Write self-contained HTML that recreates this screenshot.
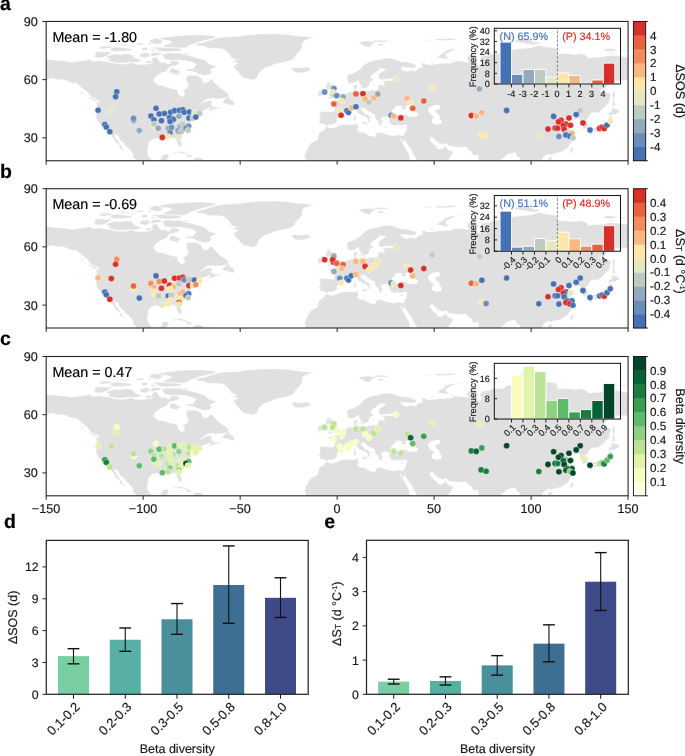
<!DOCTYPE html><html><head><meta charset="utf-8"><style>html,body{margin:0;padding:0;background:#fff;}svg{display:block;font-family:'Liberation Sans', sans-serif;will-change:transform;}text{stroke-width:0.18px;text-rendering:geometricPrecision;}</style></head><body><svg width="685" height="756" viewBox="0 0 685 756"><defs><path id="land" d="M-35.11 47.33L-32 46.16L-28.13 45.39L-26.38 44.42L-26.77 43.25L-29.87 42.67L-32.59 41.99L-31.42 40.93L-25.41 39.57L-23.08 38.21L-17.46 37.14L-13.19 36.17L-8.73 37.05L-4.27 37.24L0 37.82L4.85 38.31L9.7 38.7L17.46 39.47L21.34 39.76L25.22 40.83L29.09 40.15L32 39.76L36.85 39.18L39.76 38.79L42.67 37.82L46.55 39.76L49.46 39.57L54.31 39.18L58.19 39.96L63.04 40.73L67.89 41.9L71.77 42.67L77.59 42.67L82.44 42.09L85.35 41.12L89.22 42.67L95.04 43.06L99.89 42.87L102.8 42.09L104.74 42.09L105.52 40.15L105.71 37.82L107.65 35.3L110.56 35.88L112.5 38.41L113.47 40.35L116.38 41.51L118.32 40.35L120.26 42.09L123.17 42.67L125.5 39.18L129.96 39.57L133.26 40.35L132.87 41.7L130.93 43.64L127.05 44.61L123.17 45.58L121.23 48.1L119.29 50.04L115.41 51.4L111.53 53.92L108.62 56.25L107.46 59.16L108.23 60.52L111.53 63.62L116.38 64.01L119.29 64.98L126.08 67.31L131.32 67.69L131.51 71.77L134.81 75.07L137.72 74.48L138.3 72.74L137.72 69.83L136.55 68.47L140.63 66.92L142.37 63.43L140.63 60.13L140.04 57.22L140.43 54.31L144.51 53.73L149.35 53.73L153.23 55.47L155.56 56.64L155.95 59.35L158.47 61.49L161.96 60.52L164.87 57.61L166.23 58.19L168.75 61.49L171.66 64.4L173.99 66.72L177.48 68.86L179.81 70.22L182.33 72.74L182.72 74.68L179.42 76.42L174.57 77.2L169.72 77.2L165.84 77L161.96 77.39L158.08 79.14L154.2 82.82L156.14 81.66L160.02 79.72L163.9 79.14L166.23 79.91L165.26 81.85L165.07 83.6L166.81 85.15L170.69 85.93L172.24 86.12L174.57 84.96L174.96 85.73L172.63 87.09L167.78 88.25L163.32 89.81L162.54 88.06L165.26 86.7L161.96 86.9L160.6 87.87L157.5 88.84L154.79 90L153.62 91.55L154.01 93.3L155.17 93.49L152.85 94.07L150.32 94.66L147.8 95.43L147.41 96.21L147.03 97.95L145.67 99.12L145.28 99.89L144.31 101.64L143.34 103L144.31 105.13L144.51 106.29L142.57 107.26L140.04 108.62L137.72 110.17L134.81 111.92L133.26 113.86L133.06 116.19L134.61 119.48L135.78 122.97L135.19 125.5L133.84 125.69L132.29 123.94L130.54 121.04L130.35 119.1L128.6 116.57L127.44 116.38L125.5 116.96L123.56 115.6L120.07 115.6L117.54 115.99L117.93 117.93L115.6 118.13L112.89 117.35L109.01 116.96L107.07 117.54L103.97 119.48L102.22 121.42L102.03 124.14L101.64 127.05L101.25 131.32L102.41 134.61L104.35 137.33L106.68 138.49L107.85 139.27L111.53 138.49L114.05 138.3L115.02 136.94L115.8 133.84L119.29 132.87L122.01 132.87L122.59 135L121.23 137.72L119.87 140.63L119.29 143.92L128.02 144.51L128.02 151.29L116.38 148.38L106.68 143.92L96.98 141.98L90.19 139.07L86.51 135.19L86.9 132.87L85.73 130.73L83.99 128.79L81.47 126.08L78.75 124.14L77.78 121.81L75.84 120.45L73.32 117.93L71.57 114.05L68.28 112.69L68.66 114.83L70.6 117.74L72.16 119.68L73.9 122.59L75.45 125.3L76.81 127.63L78.75 129.18L77.78 130.15L77 128.99L73.32 126.47L73.13 123.36L69.63 121.23L67.89 120.65L69.25 119.87L67.31 116.96L65.17 114.83L63.82 111.53L61.49 109.2L59.94 108.43L57.03 107.65L56.44 105.91L54.5 103.58L53.34 101.83L52.37 100.86L51.01 99.12L50.82 97.37L49.66 96.21L50.24 94.07L49.46 91.55L50.43 88.06L50.63 84.96L50.24 82.82L49.07 80.69L52.18 81.27L52.76 79.53L51.21 78.56L48.49 77L44.61 75.65L43.06 73.32L41.31 70.8L38.41 68.66L35.88 66.92L33.94 64.98L30.84 61.88L26.19 61.68L23.66 60.91L19.78 58.97L16.49 58.19L11.83 58.19L7.37 57.03L3.49 57.22L0.97 58.58L-3.49 59.74L-2.72 56.83L0 55.86L-4.27 57.61L-6.79 59.35L-8.15 61.29L-12.61 63.43L-17.07 65.95L-22.31 67.31L-28.13 68.66L-25.22 66.92L-19.4 64.4L-14.55 61.1L-17.46 60.52L-23.08 60.71L-23.86 58.58L-28.13 57.22L-29.68 55.67L-29.68 53.34L-28.13 51.98L-21.34 51.4L-21.34 49.46L-26.19 49.27L-30.06 49.46L-32 48.88ZM280.09 104.74L278.73 103.19L276.6 102.41L273.69 102.8L273.88 100.47L272.52 99.31L273.69 96.6L274.07 94.07L273.69 92.72L272.91 91.16L275.43 89.81L279.7 90L283.58 90.39L287.46 90.39L288.43 88.25L288.62 85.35L286.68 83.21L282.22 81.66L281.64 80.69L285.13 79.91L287.85 80.11L287.26 78.17L288.62 78.75L291.34 78.56L294.05 77.39L294.05 75.84L295.99 75.45L297.93 74.68L299.29 73.32L300.26 71.77L302.39 70.99L304.53 70.6L307.44 70.22L308.02 68.86L307.63 66.92L306.66 64.78L307.63 63.82L311.51 62.65L310.93 64.78L312.09 65.37L310.35 66.92L309.57 67.89L310.35 68.86L312.29 69.83L315.2 69.05L318.49 70.02L321.98 69.25L326.83 68.28L328.97 69.05L331.88 67.89L331.88 65.95L331.68 64.4L334.79 62.65L336.73 64.01L338.28 63.43L338.08 61.49L336.53 60.52L336.53 59.74L340.41 58.97L345.26 59.16L349.53 58.38L346.81 57.22L342.35 57.41L335.56 58.38L332.46 57.03L332.65 54.89L332.26 53.34L334.59 51.21L338.47 48.69L340.22 47.72L333.62 46.94L332.07 48.88L329.74 50.82L326.83 52.56L324.89 54.31L324.31 56.25L327.22 57.8L326.06 59.55L323.54 60.91L322.95 63.43L321.79 65.75L318.69 66.92L315.97 67.11L315.39 65.37L314.03 63.04L312.67 60.52L311.51 58.38L310.35 60.13L306.47 61.88L302.59 61.88L301.62 60.13L301.04 57.22L300.65 55.28L301.62 53.34L304.53 52.37L308.41 51.4L310.35 49.46L314.23 47.52L316.17 45L319.08 42.67L321.98 40.93L325.86 39.38L329.74 38.79L333.62 38.02L337.5 36.85L340.99 36.66L345.26 36.85L349.14 38.21L351.08 39.18L354.96 39.96L360.78 40.54L366.6 42.09L370.48 44.03L369.51 45.97L365.63 46.55L358.84 46.16L355.93 45.39L354.38 46.94L357.87 49.46L361.75 49.85L363.69 48.69L367.57 49.27L369.51 49.27L373.39 45.97L376.3 46.16L375.33 41.7L378.24 41.7L380.17 43.06L384.05 43.25L393.75 42.09L396.66 41.9L401.51 41.51L405.39 41.7L408.3 39.76L413.15 39.57L417.03 40.15L422.85 40.93L420.52 37.24L421.88 34.91L423.82 32.97L426.73 32L429.64 33.36L431.58 36.85L430.61 39.76L431.58 43.64L433.52 44.61L435.46 41.7L433.52 38.79L434.49 35.88L437.39 34.33L442.24 34.14L447.09 32L451.94 32L457.76 31.42L459.7 29.48L465.52 28.13L475.22 27.16L484.92 26.19L493.26 23.86L498.49 25.22L508.19 26.19L511.1 28.13L511.1 32L519.83 32L529.53 32.97L535.35 32L540.2 33.94L542.14 36.85L546.99 35.88L554.74 35.69L562.5 33.94L572.2 34.33L581.9 35.88L585.78 37.24L591.6 36.85L601.3 37.63L611 39.57L620.69 38.79L630.39 39.18L640.09 40.73L640.09 48.49L620.69 58.19L607.12 65.95L593.54 75.65L593.54 63.04L591.6 59.16L581.9 59.16L568.32 59.55L563.47 62.07L557.65 67.89L552.8 68.66L556.68 70.8L563.47 71.38L564.83 73.71L563.47 77.59L563.09 81.47L559.59 84.38L555.71 88.25L552.8 90.78L548.93 91.55L546.02 91.16L544.46 92.52L542.52 95.04L541.75 96.98L539.23 98.92L541.55 101.83L541.94 104.74L541.55 106.29L538.26 107.46L536.32 107.85L536.12 105.71L536.9 103.77L535.74 101.83L533.99 101.44L533.02 99.89L533.99 97.95L532.05 97.18L528.17 97.95L526.04 99.31L528.17 96.01L526.23 95.24L522.74 97.37L519.83 98.54L519.25 99.89L521.38 101.83L522.55 102.61L525.26 101.25L528.56 102.03L525.65 103.58L522.74 105.71L524.68 109.59L525.46 111.53L527.2 113.47L527.4 114.63L525.65 115.41L527.59 116.57L526.62 119.29L524.68 121.23L522.93 124.14L520.8 126.85L517.89 128.79L515.95 130.15L513.04 131.12L511.1 131.51L508.19 132.29L505.28 133.45L504.9 135L504.12 132.87L501.4 132.67L499.46 133.84L497.72 135.39L496.17 137.72L495.97 138.88L497.52 142.57L502.37 151.29L494.62 157.89L484.92 149.35L481.04 155.17L480.07 142.57L474.05 143.54L474.05 139.66L473.86 136.75L471.34 135.39L469.98 133.45L469.01 131.12L466.49 131.7L464.55 132.29L462.03 132.67L459.51 134.03L458.54 135.97L455.82 137.13L453.88 139.07L452.52 140.43L446.12 145.47L441.27 159.05L438.36 155.17L434.49 145.47L432.55 139.66L432.16 136.75L431.77 133.26L430.99 133.45L427.89 134.42L424.79 131.32L426.73 130.35L424.21 129.57L421.88 128.21L420.13 125.3L416.06 125.69L410.43 125.69L405 124.91L402.09 124.53L400.15 121.81L396.66 122.97L393.75 122.2L390.65 120.45L388.52 117.74L385.99 115.6L384.05 116.38L383.86 117.74L385.22 120.26L387.16 122.2L388.13 123.75L389.87 124.14L390.84 125.11L391.04 127.05L392.78 127.63L395.69 127.63L398.6 125.3L400.15 123.56L400.35 126.27L402.48 128.6L405 128.99L406.94 131.12L404.61 135L403.06 137.72L400.93 139.66L391.81 143.54L378.24 150.32L374.94 149.94L373.97 145.47L373.39 142.57L371.45 139.66L369.51 136.75L366.98 132.87L365.63 128.79L363.69 126.27L361.75 124.14L359.23 120.26L358.84 117.35L358.06 120.26L357.29 120.84L355.93 119.48L354.18 116.57L354.96 119.29L356.51 121.62L357.87 124.14L359.81 128.02L362.33 131.9L363.3 133.84L363.11 136.75L364.66 139.66L365.63 145.47L329.74 164.87L257.98 147.41L258.95 139.66L259.53 136.75L257.98 134.22L259.33 130.93L260.89 128.02L262.82 124.14L265.35 121.04L268.64 119.68L271.55 117.93L271.94 115.41L272.52 112.5L274.66 109.98L277.76 108.62L279.31 105.71L280.09 105.13L280.67 104.94L282.22 106.29L286.68 106.49L290.95 105.13L293.86 103.77L297.74 103.19L303.56 102.8L307.44 103L310.35 102.22L312.29 102.61L311.32 104.16L312.48 106.1L310.93 108.04L312.67 110.17L315.2 110.75L320.43 111.92L321.21 113.47L325.86 114.83L328.77 115.41L329.74 112.69L329.94 111.92L332.65 110.75L335.56 111.34L339.44 112.69L344.29 113.86L347.2 114.63L350.11 113.47L353.41 113.86L355.93 114.25L357.29 113.86L357.87 113.28L358.84 110.75L359.81 108.62L360.58 106.29L360.39 104.74L361.17 103.58L359.81 103.58L357.87 103.19L354.57 104.55L351.08 103.19L350.11 103.97L348.17 104.35L345.26 103.38L344.1 102.22L343.71 100.28L342.35 99.89L342.93 97.95L341.77 96.98L342.74 96.21L344.29 96.4L347.2 95.43L347.39 94.66L351.08 94.85L355.93 93.1L358.84 92.91L361.75 94.46L365.63 95.24L369.51 95.04L371.45 94.07L371.83 92.13L368.54 90.39L365.63 88.64L363.69 87.87L361.94 86.9L363.88 86.12L365.82 84.18L366.98 83.02L363.69 83.41L359.81 84.76L358.84 85.93L361.75 86.51L359.23 87.48L356.9 88.25L355.73 88.06L355.93 86.9L353.99 86.51L356.12 85.35L353.02 84.38L351.08 84.18L350.5 84.38L349.14 85.73L348.36 86.9L346.62 88.64L345.26 90.19L344.87 92.13L345.26 93.1L347.2 94.66L345.26 95.04L343.32 95.63L341.77 96.79L341.38 95.43L339.44 95.24L337.11 95.63L336.53 96.98L334.79 96.01L334.79 97.95L336.14 98.92L337.5 100.47L335.56 101.06L335.95 102.22L335.17 103.77L334.4 103.97L333.04 103.19L331.88 101.25L332.85 100.28L331.3 99.31L328.58 96.4L328.77 93.49L326.83 92.33L323.92 90.78L321.01 89.42L319.08 86.9L317.33 87.09L317.52 85.93L314.81 86.51L315 88.84L317.33 90.19L318.49 92.13L320.43 93.3L321.98 93.3L321.98 94.27L325.86 95.82L326.83 96.79L323.92 96.01L322.95 97.76L324.12 98.92L322.95 100.09L321.98 101.06L321.4 100.28L321.79 99.12L321.21 96.98L319.66 95.82L318.11 95.04L316.17 94.46L313.84 92.91L312.48 92.13L311.32 91.16L310.73 89.42L308.41 88.45L305.5 89.61L303.56 90.97L300.65 90.39L298.71 90.19L296.96 90.97L297.16 93.3L294.83 94.46L292.5 95.43L290.95 97.37L290.37 98.34L291.34 99.31L289.59 101.64L287.85 102.41L286.68 103.38L282.42 103.38L280.67 104.35ZM51.79 80.88L48.49 79.72L44.22 77.59L41.9 76.03L43.64 75.84L47.52 77L50.43 78.56ZM175.73 82.24L181.36 82.24L183.3 83.41L186.98 83.99L188.73 82.44L187.18 80.88L186.98 79.14L183.3 77.78L183.3 74.48L181.16 75.07L178.84 77.78L176.12 80.5L177.48 81.66ZM126.27 132.09L127.24 131.12L129.96 129.96L132.87 129.76L135.78 130.15L138.69 131.32L141.21 132.48L144.12 133.64L147.03 135.39L143.92 135.87L140.24 136.07L141.21 134.61L138.88 132.67L134.81 131.8L132.29 131.51L131.51 130.54L128.99 131.51ZM146.64 138.88L148.58 136.36L149.74 135.97L152.85 136.07L155.37 136.46L158.28 138.49L155.17 139.27L152.46 140.43L149.74 139.46ZM138.88 138.88L141.6 138.69L143.15 139.66L140.63 140.04ZM160.41 138.69L163.71 138.88L163.51 139.66L160.6 139.66ZM139.66 125.88L140.43 127.05L140.04 128.41L139.07 127.44ZM137.72 122.78L139.66 122.78L139.66 123.17L137.72 123.17ZM140.63 122.39L141.6 123.17L141.21 124.14L140.43 123.36ZM147.41 95.82L151.29 94.85L151.49 95.24L147.8 96.01ZM166.04 84.18L170.69 84.38L170.3 85.35L166.81 84.96ZM165.84 77.78L171.27 78.75L171.08 79.33L166.42 78.36ZM34.91 69.83L36.85 69.83L35.88 73.32L34.91 72.16ZM-8.73 62.07L-4.27 61.68L-5.43 64.01L-8.73 64.4ZM170.88 44.81L167.59 46.36L164.1 48.49L165.45 51.01L164.1 52.56L161.96 53.34L158.08 54.12L152.26 52.56L148.38 50.43L143.92 49.66L139.66 49.46L140.63 47.52L146.83 47.33L148.38 45L150.32 43.25L147.03 40.93L141.98 39.96L137.72 38.99L131.9 38.6L125.11 38.79L119.29 38.02L117.35 35.88L115.99 32.59L122.2 31.42L128.02 31.81L134.81 31.62L140.63 33.56L146.44 35.11L152.26 36.85L158.08 38.41L160.6 40.15L161.57 42.09L166.42 43.84ZM134.81 50.43L129.96 53.73L123.17 51.21L124.14 47.52L126.08 46.36L128.99 47.52L132.87 49.46ZM129.96 52.56L133.84 53.15L130.93 53.92L128.02 53.34ZM95.04 39.18L92.13 40.73L87.28 40.93L82.44 41.12L76.62 41.51L71.77 41.7L66.92 40.73L63.04 40.15L61.1 38.79L64.01 37.63L61.1 36.85L60.13 35.88L62.07 34.91L63.04 33.94L65.95 33.36L68.86 32.39L73.71 33.36L77.59 32.39L82.44 32.39L85.35 32.97L87.28 34.33L88.64 36.47L92.13 37.63L95.04 38.21ZM47.52 34.91L48.88 35.69L52.37 36.66L56.25 36.08L59.16 35.11L62.07 33.75L63.04 32.59L65.95 31.81L66.34 31.03L63.04 30.45L59.16 30.65L55.28 30.06L50.43 30.45L48.49 31.42L49.46 32.97ZM64.01 27.16L65.95 25.99L71.77 25.6L77.59 26.19L81.47 26.77L85.35 27.35L86.12 28.71L83.41 29.29L77.59 29.68L71.77 30.06L66.92 29.87L63.04 29.09L64.98 28.13ZM52.37 26.57L56.25 24.63L62.07 24.44L65.95 25.22L64.98 26.38L59.16 27.35L55.28 27.54ZM95.04 27.93L96.01 26.19L99.89 25.8L101.83 26.57L100.86 28.13L101.64 29.09L96.98 28.9ZM103.77 29.09L106.68 28.13L109.59 28.51L109.59 29.68L105.71 29.87ZM103.77 26.77L106.68 25.99L112.5 25.8L118.32 25.99L124.14 26.19L129.96 26.38L135.78 27.74L133.84 29.29L128.02 30.06L120.26 30.26L114.44 29.87L111.53 29.09L110.56 27.54ZM115.41 25.6L122.2 26.38L129.96 26.19L135.78 26.57L139.66 26.19L144.51 23.28L149.35 21.72L153.23 20.37L159.05 18.81L164.87 17.46L170.69 15.52L166.81 14.16L155.17 13.38L141.6 13.58L126.08 14.74L116.38 16.1L111.53 17.07L116.38 18.43L123.17 19.4L126.08 20.75L122.2 22.31L120.26 23.28L117.35 24.83ZM114.44 22.31L109.59 22.69L104.74 21.34L102.8 19.4L104.74 18.23L109.59 16.88L113.47 17.46L116.38 18.81L115.41 20.37ZM89.22 22.89L92.13 21.53L96.98 21.72L98.92 22.69L96.01 23.47L92.13 23.66ZM101.83 23.47L102.8 21.72L105.71 22.31L105.13 23.47ZM71.77 23.66L75.65 22.5L82.44 23.28L85.35 24.05L78.56 24.25ZM85.35 24.63L88.64 24.05L88.25 25.02L85.73 25.22ZM134.81 32.39L139.66 31.62L142.57 32.59L139.66 33.56L135.78 33.17ZM102.8 34.91L105.71 34.91L109.59 34.33L114.44 33.36L115.41 31.42L109.59 30.84L105.71 31.42L104.74 33.36ZM93.1 33.36L95.04 35.69L99.89 36.47L102.8 34.91L103.38 32L101.83 31.23L97.95 31.42L94.07 32.59ZM97.95 41.12L101.83 41.7L105.71 41.31L106.29 39.76L103.77 39.18L100.86 39.18ZM206.57 58.58L209.48 57.22L211.42 55.28L212.39 52.37L214.33 49.66L218.21 46.75L223.06 45.39L228.88 42.48L237.61 40.93L244.4 38.99L248.28 37.05L249.25 33.94L253.13 30.06L256.04 26.19L256.04 21.72L257.98 19.4L263.79 17.07L268.64 16.29L259.92 15.13L252.16 14.55L242.46 13.19L232.76 12.41L213.36 12.61L199.79 13.77L190.09 15.13L178.45 15.52L170.69 16.68L164.87 18.43L160.02 20.37L150.32 22.31L150.32 24.25L157.11 24.63L161.96 26.77L172.63 26.96L177.48 27.74L180.39 30.06L183.3 32.97L185.24 36.85L191.06 38.21L186.21 39.76L192.03 41.7L187.18 44.61L189.12 47.52L192.03 50.43L193.97 53.34L196.88 56.25L202.7 57.8ZM244.4 47.52L247.31 45.78L255.07 46.36L261.86 45.58L264.57 48.1L262.24 49.85L255.07 51.6L248.28 50.82L247.31 48.88ZM279.89 77.39L284.16 77L289.01 76.23L293.67 75.26L294.25 72.35L291.53 71.57L291.14 70.6L288.62 68.66L287.85 66.72L286.88 65.95L286.1 64.98L287.46 63.04L284.55 62.65L283.19 62.85L285.13 60.91L281.25 60.91L280.86 62.85L279.7 64.01L280.09 65.37L278.92 65.37L280.09 67.31L281.45 68.28L284.16 68.08L284.36 69.25L285.13 70.99L282.22 71.19L282.8 72.16L283.19 73.13L280.86 74.1L283.19 74.48L284.74 74.87L282.8 75.26L281.25 76.42ZM279.31 73.32L279.31 70.8L279.51 68.66L278.34 67.5L276.4 67.31L274.46 67.89L274.85 69.44L271.55 69.44L271.75 70.99L272.52 72.74L270.97 74.1L272.52 74.68L275.43 74.1L278.73 73.32ZM312.67 66.34L315.39 65.75L315 67.5L312.87 67.5ZM309.96 67.11L311.9 66.72L311.51 67.89L310.35 67.69ZM326.06 62.26L327.8 62.46L327.03 64.01L326.25 63.62ZM307.63 93.3L309.18 91.16L309.57 92.91L308.79 94.27L307.83 93.88ZM306.86 95.24L308.79 94.46L309.96 96.01L309.57 98.73L308.02 99.12L307.24 98.73L307.44 96.4ZM315 100.86L316.75 100.47L321.21 100.28L320.24 103.38L318.69 102.8L315.39 101.64ZM336.53 106.1L337.89 105.52L341.96 106.1L339.44 106.88L336.73 106.29ZM353.6 106.68L354.96 105.91L358.06 105.32L356.9 106.88L354.96 107.46ZM295.61 97.76L297.16 97.18L297.74 97.76L296.77 98.34L295.8 98.15ZM335.17 99.12L336.53 99.12L338.67 100.67L338.08 100.86L335.95 99.7ZM312.29 22.31L314.23 20.37L318.11 19.78L321.98 19.59L325.86 20.17L331.68 20.56L326.83 22.31L324.89 24.05L322.95 25.99L318.11 24.83L316.17 23.28ZM326.83 19.01L333.62 18.62L343.32 19.4L339.44 20.56L331.68 20.75L326.83 20.17ZM331.68 22.5L336.53 22.11L337.5 23.28L334.59 24.63L331.68 24.05ZM387.93 18.43L391.81 17.07L397.63 17.46L403.45 16.49L411.21 17.46L407.33 18.62L399.57 19.01L393.75 19.2ZM378.24 18.43L385.02 17.84L384.05 19.01L379.2 19.2ZM390.84 35.88L398.6 37.44L403.06 37.44L399.96 34.91L399.57 32.59L404.42 30.06L409.27 27.74L416.06 26.38L423.82 25.41L424.79 25.22L420.91 25.02L411.21 26.77L404.42 27.54L398.6 29.48L396.66 32L393.75 33.36ZM404.42 38.02L408.3 38.41L407.33 39.18L405 38.79ZM384.05 39.96L387.55 40.15L386.96 40.93L384.64 40.93ZM467.46 19.78L473.28 17.65L479.1 17.07L484.92 18.43L486.86 20.37L492.68 20.95L494.62 22.11L486.86 23.28L481.04 22.5L475.22 21.34L470.37 20.75ZM556.68 28.71L560.56 26.77L566.38 27.35L569.29 27.93L572.2 28.13L569.29 29.29L564.44 29.87L558.62 29.48ZM574.14 28.51L578.99 28.32L582.87 28.9L578.99 29.48L575.11 29.48ZM562.5 31.42L567.35 31.23L569.29 32.39L564.44 32.59ZM566.38 85.35L569.29 84.18L567.74 78.56L568.71 74.68L568.71 70.8L567.74 69.05L566.77 70.6L565.99 73.71L566.58 77.59L566.19 81.47ZM562.5 94.07L564.83 93.49L568.9 93.1L573.17 90.58L572.78 88.64L566.38 86.32L565.61 86.51L565.22 90.58L563.09 90.78L562.12 92.72ZM565.41 94.27L566.38 97.95L564.44 100.28L564.44 103.19L563.67 105.52L562.5 106.68L560.95 106.29L559.98 107.46L556.68 107.46L556.3 108.04L554.36 109.59L553 108.04L549.9 107.85L547.96 108.23L545.05 108.82L545.05 107.46L548.54 105.71L551.84 105.52L554.55 105.13L556.3 102.41L557.27 101.83L556.49 103.38L559.59 102.03L561.53 100.09L562.5 97.95L562.5 95.43L564.06 94.66ZM544.85 108.82L546.79 109.98L545.82 113.66L544.27 114.44L543.49 112.5L542.52 110.37L543.88 109.4ZM548.15 110.95L551.25 109.98L552.22 108.62L549.9 107.85L547.37 108.82ZM525.65 125.88L527.59 126.08L526.62 128.99L525.26 132.09L524.1 130.73L523.9 128.79ZM501.6 137.52L502.76 139.07L504.51 139.07L506.25 136.55L505.48 135.58L503.54 135.78ZM524.68 138.69L525.65 138.49L527.98 138.69L528.17 141.6L524.29 142.57Z"/><path id="water" d="M381.53 88.25L383.08 86.12L385.99 84.38L389.87 83.41L393.75 83.79L394.14 86.7L390.45 88.25L388.9 89.22L390.84 92.13L393.17 93.69L393.56 96.98L395.3 98.92L395.5 102.22L389.87 103.38L385.99 101.64L385.8 99.12L386.77 96.6L388.52 96.21L385.99 94.46L384.05 92.52L382.89 90.97Z"/><clipPath id="cm0"><rect x="46.2" y="21.45" width="581.9" height="139.3"/></clipPath><clipPath id="cm1"><rect x="46.2" y="188.7" width="581.9" height="139.3"/></clipPath><clipPath id="cm2"><rect x="46.2" y="356.5" width="581.9" height="139.3"/></clipPath></defs><rect width="685" height="756" fill="#fff"/><g clip-path="url(#cm0)"><g transform="translate(46.2,21.45)"><use href="#land" fill="#e0e0e0" stroke="#fff" stroke-width="0.5" stroke-linejoin="round"/><use href="#water" fill="#fff"/></g></g><g clip-path="url(#cm0)" stroke="#fff" stroke-width="0.45" stroke-opacity="0.7"><circle cx="116.8" cy="91.75" r="3.05" fill="#4472b4"/><circle cx="115.6" cy="96.7" r="3.05" fill="#4472b4"/><circle cx="98.1" cy="110.2" r="3.05" fill="#4472b4"/><circle cx="111.3" cy="111" r="3.05" fill="#e5e8bf"/><circle cx="104.8" cy="124.5" r="3.05" fill="#4472b4"/><circle cx="106.3" cy="127.1" r="3.05" fill="#4472b4"/><circle cx="109.8" cy="131.7" r="3.05" fill="#4472b4"/><circle cx="133.7" cy="120.6" r="3.05" fill="#93a9bd"/><circle cx="133.5" cy="118.4" r="3.05" fill="#6b8dbb"/><circle cx="139.3" cy="130.5" r="3.05" fill="#93a9bd"/><circle cx="156" cy="108.3" r="3.05" fill="#4472b4"/><circle cx="159.2" cy="114" r="3.05" fill="#4472b4"/><circle cx="164.4" cy="113.5" r="3.05" fill="#4472b4"/><circle cx="150.9" cy="116" r="3.05" fill="#4472b4"/><circle cx="153.9" cy="119.8" r="3.05" fill="#4472b4"/><circle cx="154.4" cy="126.3" r="3.05" fill="#fde6a9"/><circle cx="153.9" cy="124" r="3.05" fill="#becbc0"/><circle cx="158.3" cy="128.3" r="3.05" fill="#93a9bd"/><circle cx="161.4" cy="120.7" r="3.05" fill="#4472b4"/><circle cx="170.6" cy="112.2" r="3.05" fill="#4472b4"/><circle cx="174.6" cy="110.6" r="3.05" fill="#4472b4"/><circle cx="179.5" cy="110.4" r="3.05" fill="#4472b4"/><circle cx="182.8" cy="109.8" r="3.05" fill="#4472b4"/><circle cx="184.2" cy="112.3" r="3.05" fill="#4472b4"/><circle cx="189.3" cy="112" r="3.05" fill="#4472b4"/><circle cx="194.3" cy="112.5" r="3.05" fill="#e5e8bf"/><circle cx="199.5" cy="113.4" r="3.05" fill="#becbc0"/><circle cx="169.5" cy="117.6" r="3.05" fill="#4472b4"/><circle cx="173.3" cy="119.4" r="3.05" fill="#4472b4"/><circle cx="170.1" cy="121.4" r="3.05" fill="#4472b4"/><circle cx="178.9" cy="116.3" r="3.05" fill="#93a9bd"/><circle cx="189" cy="118" r="3.05" fill="#4472b4"/><circle cx="192.9" cy="118.1" r="3.05" fill="#becbc0"/><circle cx="195.8" cy="117.1" r="3.05" fill="#4472b4"/><circle cx="168.3" cy="128.4" r="3.05" fill="#93a9bd"/><circle cx="171.5" cy="127.6" r="3.05" fill="#6b8dbb"/><circle cx="170.1" cy="132.5" r="3.05" fill="#6b8dbb"/><circle cx="168" cy="136.5" r="3.05" fill="#fde6a9"/><circle cx="162.3" cy="137.4" r="3.05" fill="#d7302a"/><circle cx="180.2" cy="126.5" r="3.05" fill="#93a9bd"/><circle cx="182.8" cy="124.6" r="3.05" fill="#becbc0"/><circle cx="178" cy="130.6" r="3.05" fill="#93a9bd"/><circle cx="181.5" cy="131.5" r="3.05" fill="#becbc0"/><circle cx="188.6" cy="126.2" r="3.05" fill="#6b8dbb"/><circle cx="186" cy="128.2" r="3.05" fill="#6b8dbb"/><circle cx="188" cy="130.2" r="3.05" fill="#becbc0"/><circle cx="178.9" cy="134.9" r="3.05" fill="#93a9bd"/><circle cx="178.9" cy="136.9" r="3.05" fill="#e5e8bf"/><circle cx="324.7" cy="92.1" r="3.05" fill="#6b8dbb"/><circle cx="333.9" cy="88.5" r="3.05" fill="#6b8dbb"/><circle cx="333.3" cy="94.3" r="3.05" fill="#becbc0"/><circle cx="332.7" cy="92" r="3.05" fill="#e5e8bf"/><circle cx="336.7" cy="95.8" r="3.05" fill="#6b8dbb"/><circle cx="343.1" cy="96.9" r="3.05" fill="#93a9bd"/><circle cx="341.8" cy="101" r="3.05" fill="#fde6a9"/><circle cx="333.9" cy="104" r="3.05" fill="#e9613f"/><circle cx="339.7" cy="110.7" r="3.05" fill="#fde6a9"/><circle cx="341.1" cy="115.3" r="3.05" fill="#d7302a"/><circle cx="346.9" cy="110.7" r="3.05" fill="#4472b4"/><circle cx="348.5" cy="112.5" r="3.05" fill="#4472b4"/><circle cx="351.3" cy="108.1" r="3.05" fill="#f8b880"/><circle cx="355.9" cy="106.8" r="3.05" fill="#4472b4"/><circle cx="355.9" cy="94" r="3.05" fill="#e9613f"/><circle cx="363" cy="93.8" r="3.05" fill="#d7302a"/><circle cx="365.1" cy="98.8" r="3.05" fill="#f8b880"/><circle cx="369" cy="102.2" r="3.05" fill="#becbc0"/><circle cx="373.8" cy="98.1" r="3.05" fill="#f8b880"/><circle cx="377.8" cy="94.1" r="3.05" fill="#93a9bd"/><circle cx="395.8" cy="79.3" r="3.05" fill="#e5e8bf"/><circle cx="432.3" cy="87.3" r="3.05" fill="#fde6a9"/><circle cx="407.1" cy="98.4" r="3.05" fill="#f8b880"/><circle cx="410.6" cy="102.5" r="3.05" fill="#fde6a9"/><circle cx="412.7" cy="108.3" r="3.05" fill="#e9613f"/><circle cx="423.8" cy="101" r="3.05" fill="#e9613f"/><circle cx="391.1" cy="115.3" r="3.05" fill="#6b8dbb"/><circle cx="393.8" cy="116.1" r="3.05" fill="#f8b880"/><circle cx="400.8" cy="117.9" r="3.05" fill="#d7302a"/><circle cx="479.4" cy="89" r="3.05" fill="#93a9bd"/><circle cx="506.6" cy="110.4" r="3.05" fill="#4472b4"/><circle cx="471.3" cy="115.6" r="3.05" fill="#d7302a"/><circle cx="476.2" cy="116.1" r="3.05" fill="#f8b880"/><circle cx="481.8" cy="112.6" r="3.05" fill="#f8b880"/><circle cx="481.1" cy="134.6" r="3.05" fill="#fde6a9"/><circle cx="486.1" cy="136" r="3.05" fill="#fde6a9"/><circle cx="580.2" cy="110.5" r="3.05" fill="#becbc0"/><circle cx="576.2" cy="114.6" r="3.05" fill="#4472b4"/><circle cx="553.6" cy="116.4" r="3.05" fill="#4472b4"/><circle cx="569" cy="118" r="3.05" fill="#d7302a"/><circle cx="561" cy="120.2" r="3.05" fill="#d7302a"/><circle cx="558.5" cy="121.9" r="3.05" fill="#d7302a"/><circle cx="565.9" cy="124.1" r="3.05" fill="#d7302a"/><circle cx="563.3" cy="125.4" r="3.05" fill="#d7302a"/><circle cx="570.5" cy="125.3" r="3.05" fill="#d7302a"/><circle cx="583" cy="123" r="3.05" fill="#d7302a"/><circle cx="548" cy="129.1" r="3.05" fill="#d7302a"/><circle cx="555.2" cy="128.1" r="3.05" fill="#d7302a"/><circle cx="557.6" cy="128.2" r="3.05" fill="#d7302a"/><circle cx="564.2" cy="129.3" r="3.05" fill="#d7302a"/><circle cx="538.8" cy="136.2" r="3.05" fill="#e5e8bf"/><circle cx="558.9" cy="136.5" r="3.05" fill="#6b8dbb"/><circle cx="572" cy="133.3" r="3.05" fill="#f8b880"/><circle cx="566.8" cy="133.3" r="3.05" fill="#becbc0"/><circle cx="565.9" cy="135" r="3.05" fill="#4472b4"/><circle cx="569.8" cy="136.3" r="3.05" fill="#4472b4"/><circle cx="572.9" cy="137.7" r="3.05" fill="#becbc0"/><circle cx="590" cy="130" r="3.05" fill="#4472b4"/><circle cx="599.6" cy="128.4" r="3.05" fill="#d7302a"/><circle cx="602.1" cy="127.4" r="3.05" fill="#d7302a"/><circle cx="604.2" cy="128.6" r="3.05" fill="#d7302a"/><circle cx="607" cy="125.1" r="3.05" fill="#4472b4"/><circle cx="610.3" cy="121.2" r="3.05" fill="#fde6a9"/></g><text x="52.4" y="41.95" font-size="14.3" fill="#000" stroke="#000">Mean = -1.80</text><text x="0.1" y="10.1" font-size="19.5" font-weight="bold" fill="#000" stroke="#000">a</text><rect x="46.2" y="21.45" width="581.9" height="139.3" fill="none" stroke="#262626" stroke-width="1.1"/><line x1="42.4" x2="46.2" y1="21.45" y2="21.45" stroke="#262626" stroke-width="1"/><text x="37.7" y="25.95" font-size="12.6" text-anchor="end" fill="#1a1a1a" stroke="#1a1a1a">90</text><line x1="42.4" x2="46.2" y1="79.64" y2="79.64" stroke="#262626" stroke-width="1"/><text x="37.7" y="84.14" font-size="12.6" text-anchor="end" fill="#1a1a1a" stroke="#1a1a1a">60</text><line x1="42.4" x2="46.2" y1="137.83" y2="137.83" stroke="#262626" stroke-width="1"/><text x="37.7" y="142.33" font-size="12.6" text-anchor="end" fill="#1a1a1a" stroke="#1a1a1a">30</text><line x1="46.2" x2="46.2" y1="160.75" y2="164.75" stroke="#262626" stroke-width="1"/><line x1="143.18" x2="143.18" y1="160.75" y2="164.75" stroke="#262626" stroke-width="1"/><line x1="240.17" x2="240.17" y1="160.75" y2="164.75" stroke="#262626" stroke-width="1"/><line x1="337.15" x2="337.15" y1="160.75" y2="164.75" stroke="#262626" stroke-width="1"/><line x1="434.13" x2="434.13" y1="160.75" y2="164.75" stroke="#262626" stroke-width="1"/><line x1="531.12" x2="531.12" y1="160.75" y2="164.75" stroke="#262626" stroke-width="1"/><line x1="628.1" x2="628.1" y1="160.75" y2="164.75" stroke="#262626" stroke-width="1"/><rect x="633.4" y="146.82" width="12.3" height="14.23" fill="#4472b4"/><rect x="633.4" y="132.89" width="12.3" height="14.23" fill="#6b8dbb"/><rect x="633.4" y="118.96" width="12.3" height="14.23" fill="#93a9bd"/><rect x="633.4" y="105.03" width="12.3" height="14.23" fill="#becbc0"/><rect x="633.4" y="91.1" width="12.3" height="14.23" fill="#e5e8bf"/><rect x="633.4" y="77.17" width="12.3" height="14.23" fill="#fde6a9"/><rect x="633.4" y="63.24" width="12.3" height="14.23" fill="#f8b880"/><rect x="633.4" y="49.31" width="12.3" height="14.23" fill="#f28c5e"/><rect x="633.4" y="35.38" width="12.3" height="14.23" fill="#e9613f"/><rect x="633.4" y="21.45" width="12.3" height="14.23" fill="#d7302a"/><rect x="633.4" y="21.45" width="12.3" height="139.3" fill="none" stroke="#111" stroke-width="0.9"/><line x1="645.7" x2="647.9" y1="21.45" y2="21.45" stroke="#111" stroke-width="0.9"/><line x1="645.7" x2="647.9" y1="160.75" y2="160.75" stroke="#111" stroke-width="0.9"/><text x="650.1" y="39.58" font-size="11.7" fill="#1a1a1a" stroke="#1a1a1a">4</text><text x="650.1" y="53.51" font-size="11.7" fill="#1a1a1a" stroke="#1a1a1a">3</text><text x="650.1" y="67.44" font-size="11.7" fill="#1a1a1a" stroke="#1a1a1a">2</text><text x="650.1" y="81.37" font-size="11.7" fill="#1a1a1a" stroke="#1a1a1a">1</text><text x="650.1" y="95.3" font-size="11.7" fill="#1a1a1a" stroke="#1a1a1a">0</text><text x="650.1" y="109.23" font-size="11.7" fill="#1a1a1a" stroke="#1a1a1a">-1</text><text x="650.1" y="123.16" font-size="11.7" fill="#1a1a1a" stroke="#1a1a1a">-2</text><text x="650.1" y="137.09" font-size="11.7" fill="#1a1a1a" stroke="#1a1a1a">-3</text><text x="650.1" y="151.02" font-size="11.7" fill="#1a1a1a" stroke="#1a1a1a">-4</text><text transform="translate(675.5,91.1) rotate(90)" font-size="12.6" text-anchor="middle" fill="#1a1a1a" stroke="#1a1a1a"><tspan>ΔSOS (d)</tspan></text><rect x="500.04" y="42.13" width="11.47" height="41.87" fill="#4472b4" stroke="#fff" stroke-width="0.9"/><rect x="511.51" y="74.3" width="11.47" height="9.7" fill="#6b8dbb" stroke="#fff" stroke-width="0.9"/><rect x="522.98" y="69.38" width="11.47" height="14.62" fill="#93a9bd" stroke="#fff" stroke-width="0.9"/><rect x="534.45" y="69.38" width="11.47" height="14.62" fill="#becbc0" stroke="#fff" stroke-width="0.9"/><rect x="545.93" y="77.22" width="11.47" height="6.78" fill="#e5e8bf" stroke="#fff" stroke-width="0.9"/><rect x="557.4" y="72.97" width="11.47" height="11.03" fill="#fde6a9" stroke="#fff" stroke-width="0.9"/><rect x="568.87" y="75.36" width="11.47" height="8.64" fill="#f8b880" stroke="#fff" stroke-width="0.9"/><rect x="580.35" y="83.2" width="11.47" height="0.8" fill="#f28c5e" stroke="#fff" stroke-width="0.9"/><rect x="591.82" y="80.01" width="11.47" height="3.99" fill="#e9613f" stroke="#fff" stroke-width="0.9"/><rect x="603.29" y="63.13" width="11.47" height="20.87" fill="#d7302a" stroke="#fff" stroke-width="0.9"/><line x1="557.4" x2="557.4" y1="84" y2="28.3" stroke="#666" stroke-width="0.8" stroke-dasharray="2.6,1.6"/><rect x="494.3" y="28.3" width="126.2" height="55.7" fill="none" stroke="#111" stroke-width="1"/><line x1="494.3" x2="497.1" y1="84" y2="84" stroke="#111" stroke-width="0.9"/><text x="489.8" y="87.2" font-size="9.1" text-anchor="end" fill="#1a1a1a" stroke="#1a1a1a">0</text><line x1="494.3" x2="497.1" y1="73.37" y2="73.37" stroke="#111" stroke-width="0.9"/><text x="489.8" y="76.57" font-size="9.1" text-anchor="end" fill="#1a1a1a" stroke="#1a1a1a">8</text><line x1="494.3" x2="497.1" y1="62.73" y2="62.73" stroke="#111" stroke-width="0.9"/><text x="489.8" y="65.93" font-size="9.1" text-anchor="end" fill="#1a1a1a" stroke="#1a1a1a">16</text><line x1="494.3" x2="497.1" y1="52.1" y2="52.1" stroke="#111" stroke-width="0.9"/><text x="489.8" y="55.3" font-size="9.1" text-anchor="end" fill="#1a1a1a" stroke="#1a1a1a">24</text><line x1="494.3" x2="497.1" y1="41.46" y2="41.46" stroke="#111" stroke-width="0.9"/><text x="489.8" y="44.66" font-size="9.1" text-anchor="end" fill="#1a1a1a" stroke="#1a1a1a">32</text><line x1="494.3" x2="497.1" y1="30.83" y2="30.83" stroke="#111" stroke-width="0.9"/><text x="489.8" y="34.03" font-size="9.1" text-anchor="end" fill="#1a1a1a" stroke="#1a1a1a">40</text><line x1="511.51" x2="511.51" y1="84" y2="87.4" stroke="#111" stroke-width="0.9"/><text x="511.21" y="96.7" font-size="9" text-anchor="middle" fill="#1a1a1a" stroke="#1a1a1a">-4</text><line x1="522.98" x2="522.98" y1="84" y2="87.4" stroke="#111" stroke-width="0.9"/><text x="522.68" y="96.7" font-size="9" text-anchor="middle" fill="#1a1a1a" stroke="#1a1a1a">-3</text><line x1="534.45" x2="534.45" y1="84" y2="87.4" stroke="#111" stroke-width="0.9"/><text x="534.15" y="96.7" font-size="9" text-anchor="middle" fill="#1a1a1a" stroke="#1a1a1a">-2</text><line x1="545.93" x2="545.93" y1="84" y2="87.4" stroke="#111" stroke-width="0.9"/><text x="545.63" y="96.7" font-size="9" text-anchor="middle" fill="#1a1a1a" stroke="#1a1a1a">-1</text><line x1="557.4" x2="557.4" y1="84" y2="87.4" stroke="#111" stroke-width="0.9"/><text x="557.1" y="96.7" font-size="9" text-anchor="middle" fill="#1a1a1a" stroke="#1a1a1a">0</text><line x1="568.87" x2="568.87" y1="84" y2="87.4" stroke="#111" stroke-width="0.9"/><text x="568.57" y="96.7" font-size="9" text-anchor="middle" fill="#1a1a1a" stroke="#1a1a1a">1</text><line x1="580.35" x2="580.35" y1="84" y2="87.4" stroke="#111" stroke-width="0.9"/><text x="580.05" y="96.7" font-size="9" text-anchor="middle" fill="#1a1a1a" stroke="#1a1a1a">2</text><line x1="591.82" x2="591.82" y1="84" y2="87.4" stroke="#111" stroke-width="0.9"/><text x="591.52" y="96.7" font-size="9" text-anchor="middle" fill="#1a1a1a" stroke="#1a1a1a">3</text><line x1="603.29" x2="603.29" y1="84" y2="87.4" stroke="#111" stroke-width="0.9"/><text x="602.99" y="96.7" font-size="9" text-anchor="middle" fill="#1a1a1a" stroke="#1a1a1a">4</text><text transform="translate(475.9,56.75) rotate(-90)" font-size="9.3" text-anchor="middle" fill="#1a1a1a" stroke="#1a1a1a">Frequency (%)</text><text x="499.6" y="39.6" font-size="10.8" fill="#4a78bd" stroke="#4a78bd">(N) 65.9%</text><text x="562.2" y="39.6" font-size="10.8" fill="#d7302a" stroke="#d7302a">(P) 34.1%</text><g clip-path="url(#cm1)"><g transform="translate(46.2,188.7)"><use href="#land" fill="#e0e0e0" stroke="#fff" stroke-width="0.5" stroke-linejoin="round"/><use href="#water" fill="#fff"/></g></g><g clip-path="url(#cm1)" stroke="#fff" stroke-width="0.45" stroke-opacity="0.7"><circle cx="116.8" cy="259.35" r="3.05" fill="#f28c5e"/><circle cx="115.6" cy="264.3" r="3.05" fill="#d7302a"/><circle cx="98.1" cy="277.8" r="3.05" fill="#f8b880"/><circle cx="111.3" cy="278.6" r="3.05" fill="#d7302a"/><circle cx="104.8" cy="292.1" r="3.05" fill="#4472b4"/><circle cx="106.3" cy="294.7" r="3.05" fill="#4472b4"/><circle cx="109.8" cy="299.3" r="3.05" fill="#d7302a"/><circle cx="133.7" cy="288.2" r="3.05" fill="#fde6a9"/><circle cx="133.5" cy="286" r="3.05" fill="#e9613f"/><circle cx="139.3" cy="298.1" r="3.05" fill="#4472b4"/><circle cx="156" cy="275.9" r="3.05" fill="#4472b4"/><circle cx="159.2" cy="281.6" r="3.05" fill="#f28c5e"/><circle cx="164.4" cy="281.1" r="3.05" fill="#d7302a"/><circle cx="150.9" cy="283.6" r="3.05" fill="#f28c5e"/><circle cx="153.9" cy="287.4" r="3.05" fill="#f8b880"/><circle cx="154.4" cy="293.9" r="3.05" fill="#fde6a9"/><circle cx="153.9" cy="291.6" r="3.05" fill="#fde6a9"/><circle cx="158.3" cy="295.9" r="3.05" fill="#becbc0"/><circle cx="161.4" cy="288.3" r="3.05" fill="#d7302a"/><circle cx="170.6" cy="279.8" r="3.05" fill="#e5e8bf"/><circle cx="174.6" cy="278.2" r="3.05" fill="#d7302a"/><circle cx="179.5" cy="278" r="3.05" fill="#d7302a"/><circle cx="182.8" cy="277.4" r="3.05" fill="#d7302a"/><circle cx="184.2" cy="279.9" r="3.05" fill="#6b8dbb"/><circle cx="189.3" cy="279.6" r="3.05" fill="#becbc0"/><circle cx="194.3" cy="280.1" r="3.05" fill="#4472b4"/><circle cx="199.5" cy="281" r="3.05" fill="#fde6a9"/><circle cx="169.5" cy="285.2" r="3.05" fill="#d7302a"/><circle cx="173.3" cy="287" r="3.05" fill="#f8b880"/><circle cx="170.1" cy="289" r="3.05" fill="#fde6a9"/><circle cx="178.9" cy="283.9" r="3.05" fill="#becbc0"/><circle cx="189" cy="285.6" r="3.05" fill="#d7302a"/><circle cx="192.9" cy="285.7" r="3.05" fill="#fde6a9"/><circle cx="195.8" cy="284.7" r="3.05" fill="#f28c5e"/><circle cx="168.3" cy="296" r="3.05" fill="#4472b4"/><circle cx="171.5" cy="295.2" r="3.05" fill="#becbc0"/><circle cx="170.1" cy="300.1" r="3.05" fill="#fde6a9"/><circle cx="168" cy="304.1" r="3.05" fill="#fde6a9"/><circle cx="162.3" cy="305" r="3.05" fill="#e5e8bf"/><circle cx="180.2" cy="294.1" r="3.05" fill="#f8b880"/><circle cx="182.8" cy="292.2" r="3.05" fill="#f8b880"/><circle cx="178" cy="298.2" r="3.05" fill="#fde6a9"/><circle cx="181.5" cy="299.1" r="3.05" fill="#fde6a9"/><circle cx="188.6" cy="293.8" r="3.05" fill="#4472b4"/><circle cx="186" cy="295.8" r="3.05" fill="#4472b4"/><circle cx="188" cy="297.8" r="3.05" fill="#becbc0"/><circle cx="178.9" cy="302.5" r="3.05" fill="#e9613f"/><circle cx="178.9" cy="304.5" r="3.05" fill="#e5e8bf"/><circle cx="324.7" cy="259.7" r="3.05" fill="#d7302a"/><circle cx="333.9" cy="256.1" r="3.05" fill="#93a9bd"/><circle cx="333.3" cy="261.9" r="3.05" fill="#d7302a"/><circle cx="332.7" cy="259.6" r="3.05" fill="#d7302a"/><circle cx="336.7" cy="263.4" r="3.05" fill="#e9613f"/><circle cx="343.1" cy="264.5" r="3.05" fill="#e9613f"/><circle cx="341.8" cy="268.6" r="3.05" fill="#f8b880"/><circle cx="333.9" cy="271.6" r="3.05" fill="#93a9bd"/><circle cx="339.7" cy="278.3" r="3.05" fill="#6b8dbb"/><circle cx="341.1" cy="282.9" r="3.05" fill="#fde6a9"/><circle cx="346.9" cy="278.3" r="3.05" fill="#4472b4"/><circle cx="348.5" cy="280.1" r="3.05" fill="#4472b4"/><circle cx="351.3" cy="275.7" r="3.05" fill="#4472b4"/><circle cx="355.9" cy="274.4" r="3.05" fill="#f8b880"/><circle cx="355.9" cy="261.6" r="3.05" fill="#f8b880"/><circle cx="363" cy="261.4" r="3.05" fill="#f8b880"/><circle cx="365.1" cy="266.4" r="3.05" fill="#d7302a"/><circle cx="369" cy="269.8" r="3.05" fill="#fde6a9"/><circle cx="373.8" cy="265.7" r="3.05" fill="#fde6a9"/><circle cx="377.8" cy="261.7" r="3.05" fill="#fde6a9"/><circle cx="395.8" cy="246.9" r="3.05" fill="#e5e8bf"/><circle cx="432.3" cy="254.9" r="3.05" fill="#becbc0"/><circle cx="407.1" cy="266" r="3.05" fill="#fde6a9"/><circle cx="410.6" cy="270.1" r="3.05" fill="#d7302a"/><circle cx="412.7" cy="275.9" r="3.05" fill="#f8b880"/><circle cx="423.8" cy="268.6" r="3.05" fill="#d7302a"/><circle cx="391.1" cy="282.9" r="3.05" fill="#6b8dbb"/><circle cx="393.8" cy="283.7" r="3.05" fill="#e5e8bf"/><circle cx="400.8" cy="285.5" r="3.05" fill="#d7302a"/><circle cx="479.4" cy="256.6" r="3.05" fill="#becbc0"/><circle cx="506.6" cy="278" r="3.05" fill="#4472b4"/><circle cx="471.3" cy="283.2" r="3.05" fill="#e9613f"/><circle cx="476.2" cy="283.7" r="3.05" fill="#f8b880"/><circle cx="481.8" cy="280.2" r="3.05" fill="#4472b4"/><circle cx="481.1" cy="302.2" r="3.05" fill="#fde6a9"/><circle cx="486.1" cy="303.6" r="3.05" fill="#6b8dbb"/><circle cx="580.2" cy="278.1" r="3.05" fill="#4472b4"/><circle cx="576.2" cy="282.2" r="3.05" fill="#4472b4"/><circle cx="553.6" cy="284" r="3.05" fill="#4472b4"/><circle cx="569" cy="285.6" r="3.05" fill="#4472b4"/><circle cx="561" cy="287.8" r="3.05" fill="#d7302a"/><circle cx="558.5" cy="289.5" r="3.05" fill="#d7302a"/><circle cx="565.9" cy="291.7" r="3.05" fill="#4472b4"/><circle cx="563.3" cy="293" r="3.05" fill="#d7302a"/><circle cx="570.5" cy="292.9" r="3.05" fill="#e5e8bf"/><circle cx="583" cy="290.6" r="3.05" fill="#4472b4"/><circle cx="548" cy="296.7" r="3.05" fill="#d7302a"/><circle cx="555.2" cy="295.7" r="3.05" fill="#4472b4"/><circle cx="557.6" cy="295.8" r="3.05" fill="#4472b4"/><circle cx="564.2" cy="296.9" r="3.05" fill="#4472b4"/><circle cx="538.8" cy="303.8" r="3.05" fill="#4472b4"/><circle cx="558.9" cy="304.1" r="3.05" fill="#4472b4"/><circle cx="572" cy="300.9" r="3.05" fill="#4472b4"/><circle cx="566.8" cy="300.9" r="3.05" fill="#4472b4"/><circle cx="565.9" cy="302.6" r="3.05" fill="#d7302a"/><circle cx="569.8" cy="303.9" r="3.05" fill="#d7302a"/><circle cx="572.9" cy="305.3" r="3.05" fill="#4472b4"/><circle cx="590" cy="297.6" r="3.05" fill="#4472b4"/><circle cx="599.6" cy="296" r="3.05" fill="#4472b4"/><circle cx="602.1" cy="295" r="3.05" fill="#4472b4"/><circle cx="604.2" cy="296.2" r="3.05" fill="#d7302a"/><circle cx="607" cy="292.7" r="3.05" fill="#4472b4"/><circle cx="610.3" cy="288.8" r="3.05" fill="#4472b4"/></g><text x="52.4" y="209.2" font-size="14.3" fill="#000" stroke="#000">Mean = -0.69</text><text x="0.1" y="177.7" font-size="19.5" font-weight="bold" fill="#000" stroke="#000">b</text><rect x="46.2" y="188.7" width="581.9" height="139.3" fill="none" stroke="#262626" stroke-width="1.1"/><line x1="42.4" x2="46.2" y1="188.7" y2="188.7" stroke="#262626" stroke-width="1"/><text x="37.7" y="193.2" font-size="12.6" text-anchor="end" fill="#1a1a1a" stroke="#1a1a1a">90</text><line x1="42.4" x2="46.2" y1="246.89" y2="246.89" stroke="#262626" stroke-width="1"/><text x="37.7" y="251.39" font-size="12.6" text-anchor="end" fill="#1a1a1a" stroke="#1a1a1a">60</text><line x1="42.4" x2="46.2" y1="305.08" y2="305.08" stroke="#262626" stroke-width="1"/><text x="37.7" y="309.58" font-size="12.6" text-anchor="end" fill="#1a1a1a" stroke="#1a1a1a">30</text><line x1="46.2" x2="46.2" y1="328" y2="332" stroke="#262626" stroke-width="1"/><line x1="143.18" x2="143.18" y1="328" y2="332" stroke="#262626" stroke-width="1"/><line x1="240.17" x2="240.17" y1="328" y2="332" stroke="#262626" stroke-width="1"/><line x1="337.15" x2="337.15" y1="328" y2="332" stroke="#262626" stroke-width="1"/><line x1="434.13" x2="434.13" y1="328" y2="332" stroke="#262626" stroke-width="1"/><line x1="531.12" x2="531.12" y1="328" y2="332" stroke="#262626" stroke-width="1"/><line x1="628.1" x2="628.1" y1="328" y2="332" stroke="#262626" stroke-width="1"/><rect x="633.4" y="314.07" width="12.3" height="14.23" fill="#4472b4"/><rect x="633.4" y="300.14" width="12.3" height="14.23" fill="#6b8dbb"/><rect x="633.4" y="286.21" width="12.3" height="14.23" fill="#93a9bd"/><rect x="633.4" y="272.28" width="12.3" height="14.23" fill="#becbc0"/><rect x="633.4" y="258.35" width="12.3" height="14.23" fill="#e5e8bf"/><rect x="633.4" y="244.42" width="12.3" height="14.23" fill="#fde6a9"/><rect x="633.4" y="230.49" width="12.3" height="14.23" fill="#f8b880"/><rect x="633.4" y="216.56" width="12.3" height="14.23" fill="#f28c5e"/><rect x="633.4" y="202.63" width="12.3" height="14.23" fill="#e9613f"/><rect x="633.4" y="188.7" width="12.3" height="14.23" fill="#d7302a"/><rect x="633.4" y="188.7" width="12.3" height="139.3" fill="none" stroke="#111" stroke-width="0.9"/><line x1="645.7" x2="647.9" y1="188.7" y2="188.7" stroke="#111" stroke-width="0.9"/><line x1="645.7" x2="647.9" y1="328" y2="328" stroke="#111" stroke-width="0.9"/><text x="650.1" y="206.83" font-size="11.7" fill="#1a1a1a" stroke="#1a1a1a">0.4</text><text x="650.1" y="220.76" font-size="11.7" fill="#1a1a1a" stroke="#1a1a1a">0.3</text><text x="650.1" y="234.69" font-size="11.7" fill="#1a1a1a" stroke="#1a1a1a">0.2</text><text x="650.1" y="248.62" font-size="11.7" fill="#1a1a1a" stroke="#1a1a1a">0.1</text><text x="650.1" y="262.55" font-size="11.7" fill="#1a1a1a" stroke="#1a1a1a">0.0</text><text x="650.1" y="276.48" font-size="11.7" fill="#1a1a1a" stroke="#1a1a1a">-0.1</text><text x="650.1" y="290.41" font-size="11.7" fill="#1a1a1a" stroke="#1a1a1a">-0.2</text><text x="650.1" y="304.34" font-size="11.7" fill="#1a1a1a" stroke="#1a1a1a">-0.3</text><text x="650.1" y="318.27" font-size="11.7" fill="#1a1a1a" stroke="#1a1a1a">-0.4</text><text transform="translate(675.5,261.35) rotate(90)" font-size="12.6" text-anchor="middle" fill="#1a1a1a" stroke="#1a1a1a"><tspan>ΔS</tspan><tspan font-size="8.7">T</tspan><tspan> (d °C</tspan><tspan font-size="6.8" dy="-4.2">-1</tspan><tspan dy="4.2">)</tspan></text><rect x="500.04" y="211.14" width="11.47" height="40.11" fill="#4472b4" stroke="#fff" stroke-width="0.9"/><rect x="511.51" y="247.14" width="11.47" height="4.11" fill="#6b8dbb" stroke="#fff" stroke-width="0.9"/><rect x="522.98" y="246.29" width="11.47" height="4.96" fill="#93a9bd" stroke="#fff" stroke-width="0.9"/><rect x="534.45" y="238.49" width="11.47" height="12.76" fill="#becbc0" stroke="#fff" stroke-width="0.9"/><rect x="545.93" y="240.76" width="11.47" height="10.49" fill="#e5e8bf" stroke="#fff" stroke-width="0.9"/><rect x="557.4" y="232.12" width="11.47" height="19.13" fill="#fde6a9" stroke="#fff" stroke-width="0.9"/><rect x="568.87" y="238.78" width="11.47" height="12.47" fill="#f8b880" stroke="#fff" stroke-width="0.9"/><rect x="580.35" y="246.15" width="11.47" height="5.1" fill="#f28c5e" stroke="#fff" stroke-width="0.9"/><rect x="591.82" y="244.16" width="11.47" height="7.09" fill="#e9613f" stroke="#fff" stroke-width="0.9"/><rect x="603.29" y="225.74" width="11.47" height="25.51" fill="#d7302a" stroke="#fff" stroke-width="0.9"/><line x1="557.4" x2="557.4" y1="251.25" y2="195.55" stroke="#666" stroke-width="0.8" stroke-dasharray="2.6,1.6"/><rect x="494.3" y="195.55" width="126.2" height="55.7" fill="none" stroke="#111" stroke-width="1"/><line x1="494.3" x2="497.1" y1="251.25" y2="251.25" stroke="#111" stroke-width="0.9"/><text x="489.8" y="254.45" font-size="9.1" text-anchor="end" fill="#1a1a1a" stroke="#1a1a1a">0</text><line x1="494.3" x2="497.1" y1="239.91" y2="239.91" stroke="#111" stroke-width="0.9"/><text x="489.8" y="243.11" font-size="9.1" text-anchor="end" fill="#1a1a1a" stroke="#1a1a1a">8</text><line x1="494.3" x2="497.1" y1="228.57" y2="228.57" stroke="#111" stroke-width="0.9"/><text x="489.8" y="231.77" font-size="9.1" text-anchor="end" fill="#1a1a1a" stroke="#1a1a1a">16</text><line x1="494.3" x2="497.1" y1="217.23" y2="217.23" stroke="#111" stroke-width="0.9"/><text x="489.8" y="220.43" font-size="9.1" text-anchor="end" fill="#1a1a1a" stroke="#1a1a1a">24</text><line x1="494.3" x2="497.1" y1="205.9" y2="205.9" stroke="#111" stroke-width="0.9"/><text x="489.8" y="209.1" font-size="9.1" text-anchor="end" fill="#1a1a1a" stroke="#1a1a1a">32</text><line x1="511.51" x2="511.51" y1="251.25" y2="254.65" stroke="#111" stroke-width="0.9"/><text transform="translate(516.21,260.25) rotate(-45)" font-size="8.8" text-anchor="end" fill="#1a1a1a" stroke="#1a1a1a">-0.4</text><line x1="522.98" x2="522.98" y1="251.25" y2="254.65" stroke="#111" stroke-width="0.9"/><text transform="translate(527.68,260.25) rotate(-45)" font-size="8.8" text-anchor="end" fill="#1a1a1a" stroke="#1a1a1a">-0.3</text><line x1="534.45" x2="534.45" y1="251.25" y2="254.65" stroke="#111" stroke-width="0.9"/><text transform="translate(539.15,260.25) rotate(-45)" font-size="8.8" text-anchor="end" fill="#1a1a1a" stroke="#1a1a1a">-0.2</text><line x1="545.93" x2="545.93" y1="251.25" y2="254.65" stroke="#111" stroke-width="0.9"/><text transform="translate(550.63,260.25) rotate(-45)" font-size="8.8" text-anchor="end" fill="#1a1a1a" stroke="#1a1a1a">-0.1</text><line x1="557.4" x2="557.4" y1="251.25" y2="254.65" stroke="#111" stroke-width="0.9"/><text transform="translate(562.1,260.25) rotate(-45)" font-size="8.8" text-anchor="end" fill="#1a1a1a" stroke="#1a1a1a">0</text><line x1="568.87" x2="568.87" y1="251.25" y2="254.65" stroke="#111" stroke-width="0.9"/><text transform="translate(573.57,260.25) rotate(-45)" font-size="8.8" text-anchor="end" fill="#1a1a1a" stroke="#1a1a1a">0.1</text><line x1="580.35" x2="580.35" y1="251.25" y2="254.65" stroke="#111" stroke-width="0.9"/><text transform="translate(585.05,260.25) rotate(-45)" font-size="8.8" text-anchor="end" fill="#1a1a1a" stroke="#1a1a1a">0.2</text><line x1="591.82" x2="591.82" y1="251.25" y2="254.65" stroke="#111" stroke-width="0.9"/><text transform="translate(596.52,260.25) rotate(-45)" font-size="8.8" text-anchor="end" fill="#1a1a1a" stroke="#1a1a1a">0.3</text><line x1="603.29" x2="603.29" y1="251.25" y2="254.65" stroke="#111" stroke-width="0.9"/><text transform="translate(607.99,260.25) rotate(-45)" font-size="8.8" text-anchor="end" fill="#1a1a1a" stroke="#1a1a1a">0.4</text><text transform="translate(475.9,224) rotate(-90)" font-size="9.3" text-anchor="middle" fill="#1a1a1a" stroke="#1a1a1a">Frequency (%)</text><text x="499.6" y="206.85" font-size="10.8" fill="#4a78bd" stroke="#4a78bd">(N) 51.1%</text><text x="562.2" y="206.85" font-size="10.8" fill="#d7302a" stroke="#d7302a">(P) 48.9%</text><g clip-path="url(#cm2)"><g transform="translate(46.2,356.5)"><use href="#land" fill="#e0e0e0" stroke="#fff" stroke-width="0.5" stroke-linejoin="round"/><use href="#water" fill="#fff"/></g></g><g clip-path="url(#cm2)" stroke="#fff" stroke-width="0.45" stroke-opacity="0.7"><circle cx="116.8" cy="427.05" r="3.05" fill="#f8fcbe"/><circle cx="115.6" cy="432" r="3.05" fill="#e0f3a8"/><circle cx="98.1" cy="445.5" r="3.05" fill="#e0f3a8"/><circle cx="111.3" cy="446.3" r="3.05" fill="#bce395"/><circle cx="104.8" cy="459.8" r="3.05" fill="#379e54"/><circle cx="106.3" cy="462.4" r="3.05" fill="#1a7d40"/><circle cx="109.8" cy="467" r="3.05" fill="#bce395"/><circle cx="133.7" cy="455.9" r="3.05" fill="#f8fcbe"/><circle cx="133.5" cy="453.7" r="3.05" fill="#bce395"/><circle cx="139.3" cy="465.8" r="3.05" fill="#5fba6c"/><circle cx="156" cy="443.6" r="3.05" fill="#f8fcbe"/><circle cx="159.2" cy="449.3" r="3.05" fill="#5fba6c"/><circle cx="164.4" cy="448.8" r="3.05" fill="#bce395"/><circle cx="150.9" cy="451.3" r="3.05" fill="#90d083"/><circle cx="153.9" cy="455.1" r="3.05" fill="#bce395"/><circle cx="154.4" cy="461.6" r="3.05" fill="#e0f3a8"/><circle cx="153.9" cy="459.3" r="3.05" fill="#5fba6c"/><circle cx="158.3" cy="463.6" r="3.05" fill="#e0f3a8"/><circle cx="161.4" cy="456" r="3.05" fill="#bce395"/><circle cx="170.6" cy="447.5" r="3.05" fill="#e0f3a8"/><circle cx="174.6" cy="445.9" r="3.05" fill="#5fba6c"/><circle cx="179.5" cy="445.7" r="3.05" fill="#e0f3a8"/><circle cx="182.8" cy="445.1" r="3.05" fill="#e0f3a8"/><circle cx="184.2" cy="447.6" r="3.05" fill="#e0f3a8"/><circle cx="189.3" cy="447.3" r="3.05" fill="#bce395"/><circle cx="194.3" cy="447.8" r="3.05" fill="#e0f3a8"/><circle cx="199.5" cy="448.7" r="3.05" fill="#e0f3a8"/><circle cx="169.5" cy="452.9" r="3.05" fill="#e0f3a8"/><circle cx="173.3" cy="454.7" r="3.05" fill="#bce395"/><circle cx="170.1" cy="456.7" r="3.05" fill="#e0f3a8"/><circle cx="178.9" cy="451.6" r="3.05" fill="#90d083"/><circle cx="189" cy="453.3" r="3.05" fill="#bce395"/><circle cx="192.9" cy="453.4" r="3.05" fill="#f8fcbe"/><circle cx="195.8" cy="452.4" r="3.05" fill="#e0f3a8"/><circle cx="168.3" cy="463.7" r="3.05" fill="#bce395"/><circle cx="171.5" cy="462.9" r="3.05" fill="#e0f3a8"/><circle cx="170.1" cy="467.8" r="3.05" fill="#90d083"/><circle cx="168" cy="471.8" r="3.05" fill="#bce395"/><circle cx="162.3" cy="472.7" r="3.05" fill="#5fba6c"/><circle cx="180.2" cy="461.8" r="3.05" fill="#e0f3a8"/><circle cx="182.8" cy="459.9" r="3.05" fill="#e0f3a8"/><circle cx="178" cy="465.9" r="3.05" fill="#bce395"/><circle cx="181.5" cy="466.8" r="3.05" fill="#e0f3a8"/><circle cx="188.6" cy="461.5" r="3.05" fill="#5fba6c"/><circle cx="186" cy="463.5" r="3.05" fill="#004529"/><circle cx="188" cy="465.5" r="3.05" fill="#e0f3a8"/><circle cx="178.9" cy="470.2" r="3.05" fill="#90d083"/><circle cx="178.9" cy="472.2" r="3.05" fill="#e0f3a8"/><circle cx="324.7" cy="427.4" r="3.05" fill="#bce395"/><circle cx="333.9" cy="423.8" r="3.05" fill="#bce395"/><circle cx="333.3" cy="429.6" r="3.05" fill="#f8fcbe"/><circle cx="332.7" cy="427.3" r="3.05" fill="#bce395"/><circle cx="336.7" cy="431.1" r="3.05" fill="#f8fcbe"/><circle cx="343.1" cy="432.2" r="3.05" fill="#f8fcbe"/><circle cx="341.8" cy="436.3" r="3.05" fill="#f8fcbe"/><circle cx="333.9" cy="439.3" r="3.05" fill="#f8fcbe"/><circle cx="339.7" cy="446" r="3.05" fill="#f8fcbe"/><circle cx="341.1" cy="450.6" r="3.05" fill="#f8fcbe"/><circle cx="346.9" cy="446" r="3.05" fill="#f8fcbe"/><circle cx="348.5" cy="447.8" r="3.05" fill="#f8fcbe"/><circle cx="351.3" cy="443.4" r="3.05" fill="#f8fcbe"/><circle cx="355.9" cy="442.1" r="3.05" fill="#f8fcbe"/><circle cx="355.9" cy="429.3" r="3.05" fill="#bce395"/><circle cx="363" cy="429.1" r="3.05" fill="#bce395"/><circle cx="365.1" cy="434.1" r="3.05" fill="#f8fcbe"/><circle cx="369" cy="437.5" r="3.05" fill="#f8fcbe"/><circle cx="373.8" cy="433.4" r="3.05" fill="#bce395"/><circle cx="377.8" cy="429.4" r="3.05" fill="#e0f3a8"/><circle cx="395.8" cy="414.6" r="3.05" fill="#f8fcbe"/><circle cx="432.3" cy="422.6" r="3.05" fill="#e0f3a8"/><circle cx="407.1" cy="433.7" r="3.05" fill="#bce395"/><circle cx="410.6" cy="437.8" r="3.05" fill="#006435"/><circle cx="412.7" cy="443.6" r="3.05" fill="#5fba6c"/><circle cx="423.8" cy="436.3" r="3.05" fill="#379e54"/><circle cx="393.8" cy="451.4" r="3.05" fill="#bce395"/><circle cx="400.8" cy="453.2" r="3.05" fill="#bce395"/><circle cx="479.4" cy="424.3" r="3.05" fill="#e0f3a8"/><circle cx="506.6" cy="445.7" r="3.05" fill="#004529"/><circle cx="471.3" cy="450.9" r="3.05" fill="#1a7d40"/><circle cx="476.2" cy="451.4" r="3.05" fill="#006435"/><circle cx="481.8" cy="447.9" r="3.05" fill="#379e54"/><circle cx="481.1" cy="469.9" r="3.05" fill="#1a7d40"/><circle cx="486.1" cy="471.3" r="3.05" fill="#1a7d40"/><circle cx="580.2" cy="445.8" r="3.05" fill="#004529"/><circle cx="576.2" cy="449.9" r="3.05" fill="#004529"/><circle cx="553.6" cy="451.7" r="3.05" fill="#004529"/><circle cx="569" cy="453.3" r="3.05" fill="#004529"/><circle cx="561" cy="455.5" r="3.05" fill="#004529"/><circle cx="558.5" cy="457.2" r="3.05" fill="#004529"/><circle cx="565.9" cy="459.4" r="3.05" fill="#90d083"/><circle cx="563.3" cy="460.7" r="3.05" fill="#006435"/><circle cx="570.5" cy="460.6" r="3.05" fill="#004529"/><circle cx="583" cy="458.3" r="3.05" fill="#e0f3a8"/><circle cx="548" cy="464.4" r="3.05" fill="#004529"/><circle cx="555.2" cy="463.4" r="3.05" fill="#006435"/><circle cx="557.6" cy="463.5" r="3.05" fill="#1a7d40"/><circle cx="564.2" cy="464.6" r="3.05" fill="#004529"/><circle cx="538.8" cy="471.5" r="3.05" fill="#1a7d40"/><circle cx="558.9" cy="471.8" r="3.05" fill="#004529"/><circle cx="572" cy="468.6" r="3.05" fill="#006435"/><circle cx="566.8" cy="468.6" r="3.05" fill="#006435"/><circle cx="565.9" cy="470.3" r="3.05" fill="#006435"/><circle cx="569.8" cy="471.6" r="3.05" fill="#90d083"/><circle cx="572.9" cy="473" r="3.05" fill="#004529"/><circle cx="590" cy="465.3" r="3.05" fill="#004529"/><circle cx="599.6" cy="463.7" r="3.05" fill="#bce395"/><circle cx="602.1" cy="462.7" r="3.05" fill="#90d083"/><circle cx="604.2" cy="463.9" r="3.05" fill="#1a7d40"/><circle cx="607" cy="460.4" r="3.05" fill="#5fba6c"/><circle cx="610.3" cy="456.5" r="3.05" fill="#379e54"/></g><text x="52.4" y="377" font-size="14.3" fill="#000" stroke="#000">Mean = 0.47</text><text x="0.1" y="345.3" font-size="19.5" font-weight="bold" fill="#000" stroke="#000">c</text><rect x="46.2" y="356.5" width="581.9" height="139.3" fill="none" stroke="#262626" stroke-width="1.1"/><line x1="42.4" x2="46.2" y1="356.5" y2="356.5" stroke="#262626" stroke-width="1"/><text x="37.7" y="361" font-size="12.6" text-anchor="end" fill="#1a1a1a" stroke="#1a1a1a">90</text><line x1="42.4" x2="46.2" y1="414.69" y2="414.69" stroke="#262626" stroke-width="1"/><text x="37.7" y="419.19" font-size="12.6" text-anchor="end" fill="#1a1a1a" stroke="#1a1a1a">60</text><line x1="42.4" x2="46.2" y1="472.88" y2="472.88" stroke="#262626" stroke-width="1"/><text x="37.7" y="477.38" font-size="12.6" text-anchor="end" fill="#1a1a1a" stroke="#1a1a1a">30</text><line x1="46.2" x2="46.2" y1="495.8" y2="499.8" stroke="#262626" stroke-width="1"/><text x="46" y="513" font-size="12.6" text-anchor="middle" fill="#1a1a1a" stroke="#1a1a1a">−150</text><line x1="143.18" x2="143.18" y1="495.8" y2="499.8" stroke="#262626" stroke-width="1"/><text x="142.98" y="513" font-size="12.6" text-anchor="middle" fill="#1a1a1a" stroke="#1a1a1a">−100</text><line x1="240.17" x2="240.17" y1="495.8" y2="499.8" stroke="#262626" stroke-width="1"/><text x="239.97" y="513" font-size="12.6" text-anchor="middle" fill="#1a1a1a" stroke="#1a1a1a">−50</text><line x1="337.15" x2="337.15" y1="495.8" y2="499.8" stroke="#262626" stroke-width="1"/><text x="336.95" y="513" font-size="12.6" text-anchor="middle" fill="#1a1a1a" stroke="#1a1a1a">0</text><line x1="434.13" x2="434.13" y1="495.8" y2="499.8" stroke="#262626" stroke-width="1"/><text x="433.93" y="513" font-size="12.6" text-anchor="middle" fill="#1a1a1a" stroke="#1a1a1a">50</text><line x1="531.12" x2="531.12" y1="495.8" y2="499.8" stroke="#262626" stroke-width="1"/><text x="530.92" y="513" font-size="12.6" text-anchor="middle" fill="#1a1a1a" stroke="#1a1a1a">100</text><line x1="628.1" x2="628.1" y1="495.8" y2="499.8" stroke="#262626" stroke-width="1"/><text x="627.9" y="513" font-size="12.6" text-anchor="middle" fill="#1a1a1a" stroke="#1a1a1a">150</text><rect x="633.4" y="481.87" width="12.3" height="14.23" fill="#ffffe5"/><rect x="633.4" y="467.94" width="12.3" height="14.23" fill="#f8fcbe"/><rect x="633.4" y="454.01" width="12.3" height="14.23" fill="#e0f3a8"/><rect x="633.4" y="440.08" width="12.3" height="14.23" fill="#bce395"/><rect x="633.4" y="426.15" width="12.3" height="14.23" fill="#90d083"/><rect x="633.4" y="412.22" width="12.3" height="14.23" fill="#5fba6c"/><rect x="633.4" y="398.29" width="12.3" height="14.23" fill="#379e54"/><rect x="633.4" y="384.36" width="12.3" height="14.23" fill="#1a7d40"/><rect x="633.4" y="370.43" width="12.3" height="14.23" fill="#006435"/><rect x="633.4" y="356.5" width="12.3" height="14.23" fill="#004529"/><rect x="633.4" y="356.5" width="12.3" height="139.3" fill="none" stroke="#111" stroke-width="0.9"/><line x1="645.7" x2="647.9" y1="356.5" y2="356.5" stroke="#111" stroke-width="0.9"/><line x1="645.7" x2="647.9" y1="495.8" y2="495.8" stroke="#111" stroke-width="0.9"/><text x="650.1" y="374.63" font-size="11.7" fill="#1a1a1a" stroke="#1a1a1a">0.9</text><text x="650.1" y="388.56" font-size="11.7" fill="#1a1a1a" stroke="#1a1a1a">0.8</text><text x="650.1" y="402.49" font-size="11.7" fill="#1a1a1a" stroke="#1a1a1a">0.7</text><text x="650.1" y="416.42" font-size="11.7" fill="#1a1a1a" stroke="#1a1a1a">0.6</text><text x="650.1" y="430.35" font-size="11.7" fill="#1a1a1a" stroke="#1a1a1a">0.5</text><text x="650.1" y="444.28" font-size="11.7" fill="#1a1a1a" stroke="#1a1a1a">0.4</text><text x="650.1" y="458.21" font-size="11.7" fill="#1a1a1a" stroke="#1a1a1a">0.3</text><text x="650.1" y="472.14" font-size="11.7" fill="#1a1a1a" stroke="#1a1a1a">0.2</text><text x="650.1" y="486.07" font-size="11.7" fill="#1a1a1a" stroke="#1a1a1a">0.1</text><text transform="translate(675.5,426.15) rotate(90)" font-size="12.6" text-anchor="middle" fill="#1a1a1a" stroke="#1a1a1a"><tspan>Beta diversity</tspan></text><rect x="511.51" y="375.56" width="11.47" height="43.49" fill="#f8fcbe" stroke="#fff" stroke-width="0.9"/><rect x="522.98" y="366.15" width="11.47" height="52.9" fill="#e0f3a8" stroke="#fff" stroke-width="0.9"/><rect x="534.45" y="371.74" width="11.47" height="47.31" fill="#bce395" stroke="#fff" stroke-width="0.9"/><rect x="545.93" y="400.23" width="11.47" height="18.82" fill="#90d083" stroke="#fff" stroke-width="0.9"/><rect x="557.4" y="398.45" width="11.47" height="20.6" fill="#5fba6c" stroke="#fff" stroke-width="0.9"/><rect x="568.87" y="411.93" width="11.47" height="7.12" fill="#379e54" stroke="#fff" stroke-width="0.9"/><rect x="580.35" y="409.64" width="11.47" height="9.41" fill="#1a7d40" stroke="#fff" stroke-width="0.9"/><rect x="591.82" y="400.48" width="11.47" height="18.57" fill="#006435" stroke="#fff" stroke-width="0.9"/><rect x="603.29" y="383.44" width="11.47" height="35.61" fill="#004529" stroke="#fff" stroke-width="0.9"/><rect x="494.3" y="363.35" width="126.2" height="55.7" fill="none" stroke="#111" stroke-width="1"/><line x1="494.3" x2="497.1" y1="419.05" y2="419.05" stroke="#111" stroke-width="0.9"/><text x="489.8" y="422.25" font-size="9.1" text-anchor="end" fill="#1a1a1a" stroke="#1a1a1a">0</text><line x1="494.3" x2="497.1" y1="398.7" y2="398.7" stroke="#111" stroke-width="0.9"/><text x="489.8" y="401.9" font-size="9.1" text-anchor="end" fill="#1a1a1a" stroke="#1a1a1a">8</text><line x1="494.3" x2="497.1" y1="378.36" y2="378.36" stroke="#111" stroke-width="0.9"/><text x="489.8" y="381.56" font-size="9.1" text-anchor="end" fill="#1a1a1a" stroke="#1a1a1a">16</text><line x1="511.51" x2="511.51" y1="419.05" y2="422.45" stroke="#111" stroke-width="0.9"/><text transform="translate(516.21,428.05) rotate(-45)" font-size="8.8" text-anchor="end" fill="#1a1a1a" stroke="#1a1a1a">0.1</text><line x1="522.98" x2="522.98" y1="419.05" y2="422.45" stroke="#111" stroke-width="0.9"/><text transform="translate(527.68,428.05) rotate(-45)" font-size="8.8" text-anchor="end" fill="#1a1a1a" stroke="#1a1a1a">0.2</text><line x1="534.45" x2="534.45" y1="419.05" y2="422.45" stroke="#111" stroke-width="0.9"/><text transform="translate(539.15,428.05) rotate(-45)" font-size="8.8" text-anchor="end" fill="#1a1a1a" stroke="#1a1a1a">0.3</text><line x1="545.93" x2="545.93" y1="419.05" y2="422.45" stroke="#111" stroke-width="0.9"/><text transform="translate(550.63,428.05) rotate(-45)" font-size="8.8" text-anchor="end" fill="#1a1a1a" stroke="#1a1a1a">0.4</text><line x1="557.4" x2="557.4" y1="419.05" y2="422.45" stroke="#111" stroke-width="0.9"/><text transform="translate(562.1,428.05) rotate(-45)" font-size="8.8" text-anchor="end" fill="#1a1a1a" stroke="#1a1a1a">0.5</text><line x1="568.87" x2="568.87" y1="419.05" y2="422.45" stroke="#111" stroke-width="0.9"/><text transform="translate(573.57,428.05) rotate(-45)" font-size="8.8" text-anchor="end" fill="#1a1a1a" stroke="#1a1a1a">0.6</text><line x1="580.35" x2="580.35" y1="419.05" y2="422.45" stroke="#111" stroke-width="0.9"/><text transform="translate(585.05,428.05) rotate(-45)" font-size="8.8" text-anchor="end" fill="#1a1a1a" stroke="#1a1a1a">0.7</text><line x1="591.82" x2="591.82" y1="419.05" y2="422.45" stroke="#111" stroke-width="0.9"/><text transform="translate(596.52,428.05) rotate(-45)" font-size="8.8" text-anchor="end" fill="#1a1a1a" stroke="#1a1a1a">0.8</text><line x1="603.29" x2="603.29" y1="419.05" y2="422.45" stroke="#111" stroke-width="0.9"/><text transform="translate(607.99,428.05) rotate(-45)" font-size="8.8" text-anchor="end" fill="#1a1a1a" stroke="#1a1a1a">0.9</text><text transform="translate(475.9,391.8) rotate(-90)" font-size="9.3" text-anchor="middle" fill="#1a1a1a" stroke="#1a1a1a">Frequency (%)</text><text x="4" y="528.1" font-size="19.5" font-weight="bold" fill="#000" stroke="#000">d</text><rect x="58" y="656.09" width="31" height="38.21" fill="#7acfa2"/><rect x="109.75" y="639.75" width="31" height="54.55" fill="#58b0a4"/><rect x="161.5" y="619.26" width="31" height="75.04" fill="#4a8f9c"/><rect x="213.25" y="584.98" width="31" height="109.32" fill="#3f6e93"/><rect x="265" y="597.82" width="31" height="96.48" fill="#3f4a88"/><line x1="73.5" x2="73.5" y1="663.84" y2="648.66" stroke="#111" stroke-width="1.1"/><line x1="67.6" x2="79.4" y1="663.84" y2="663.84" stroke="#111" stroke-width="1.4"/><line x1="67.6" x2="79.4" y1="648.66" y2="648.66" stroke="#111" stroke-width="1.4"/><line x1="125.25" x2="125.25" y1="651.31" y2="627.96" stroke="#111" stroke-width="1.1"/><line x1="119.35" x2="131.15" y1="651.31" y2="651.31" stroke="#111" stroke-width="1.4"/><line x1="119.35" x2="131.15" y1="627.96" y2="627.96" stroke="#111" stroke-width="1.4"/><line x1="177" x2="177" y1="634.33" y2="603.55" stroke="#111" stroke-width="1.1"/><line x1="171.1" x2="182.9" y1="634.33" y2="634.33" stroke="#111" stroke-width="1.4"/><line x1="171.1" x2="182.9" y1="603.55" y2="603.55" stroke="#111" stroke-width="1.4"/><line x1="228.75" x2="228.75" y1="623.29" y2="545.92" stroke="#111" stroke-width="1.1"/><line x1="222.85" x2="234.65" y1="623.29" y2="623.29" stroke="#111" stroke-width="1.4"/><line x1="222.85" x2="234.65" y1="545.92" y2="545.92" stroke="#111" stroke-width="1.4"/><line x1="280.5" x2="280.5" y1="617.46" y2="577.76" stroke="#111" stroke-width="1.1"/><line x1="274.6" x2="286.4" y1="617.46" y2="617.46" stroke="#111" stroke-width="1.4"/><line x1="274.6" x2="286.4" y1="577.76" y2="577.76" stroke="#111" stroke-width="1.4"/><rect x="46.3" y="540.4" width="261.9" height="153.9" fill="none" stroke="#262626" stroke-width="1.25"/><line x1="42.5" x2="46.3" y1="694.3" y2="694.3" stroke="#262626" stroke-width="1"/><text x="38.7" y="698.8" font-size="12.3" text-anchor="end" fill="#1a1a1a" stroke="#1a1a1a">0</text><line x1="42.5" x2="46.3" y1="662.46" y2="662.46" stroke="#262626" stroke-width="1"/><text x="38.7" y="666.96" font-size="12.3" text-anchor="end" fill="#1a1a1a" stroke="#1a1a1a">3</text><line x1="42.5" x2="46.3" y1="630.62" y2="630.62" stroke="#262626" stroke-width="1"/><text x="38.7" y="635.12" font-size="12.3" text-anchor="end" fill="#1a1a1a" stroke="#1a1a1a">6</text><line x1="42.5" x2="46.3" y1="598.78" y2="598.78" stroke="#262626" stroke-width="1"/><text x="38.7" y="603.28" font-size="12.3" text-anchor="end" fill="#1a1a1a" stroke="#1a1a1a">9</text><line x1="42.5" x2="46.3" y1="566.93" y2="566.93" stroke="#262626" stroke-width="1"/><text x="38.7" y="571.43" font-size="12.3" text-anchor="end" fill="#1a1a1a" stroke="#1a1a1a">12</text><line x1="73.5" x2="73.5" y1="694.3" y2="698.7" stroke="#111" stroke-width="1"/><text transform="translate(80.7,707.7) rotate(-45)" font-size="12.9" text-anchor="end" fill="#1a1a1a" stroke="#1a1a1a">0.1-0.2</text><line x1="125.25" x2="125.25" y1="694.3" y2="698.7" stroke="#111" stroke-width="1"/><text transform="translate(132.45,707.7) rotate(-45)" font-size="12.9" text-anchor="end" fill="#1a1a1a" stroke="#1a1a1a">0.2-0.3</text><line x1="177" x2="177" y1="694.3" y2="698.7" stroke="#111" stroke-width="1"/><text transform="translate(184.2,707.7) rotate(-45)" font-size="12.9" text-anchor="end" fill="#1a1a1a" stroke="#1a1a1a">0.3-0.5</text><line x1="228.75" x2="228.75" y1="694.3" y2="698.7" stroke="#111" stroke-width="1"/><text transform="translate(235.95,707.7) rotate(-45)" font-size="12.9" text-anchor="end" fill="#1a1a1a" stroke="#1a1a1a">0.5-0.8</text><line x1="280.5" x2="280.5" y1="694.3" y2="698.7" stroke="#111" stroke-width="1"/><text transform="translate(287.7,707.7) rotate(-45)" font-size="12.9" text-anchor="end" fill="#1a1a1a" stroke="#1a1a1a">0.8-1.0</text><text x="177.25" y="752.6" font-size="12.5" text-anchor="middle" fill="#1a1a1a" stroke="#1a1a1a">Beta diversity</text><text transform="translate(17.3,617.35) rotate(-90)" font-size="12.5" text-anchor="middle" fill="#1a1a1a" stroke="#1a1a1a"><tspan>ΔSOS (d)</tspan></text><text x="324.3" y="528.1" font-size="19.5" font-weight="bold" fill="#000" stroke="#000">e</text><rect x="378.2" y="681.64" width="31" height="12.66" fill="#7acfa2"/><rect x="429.95" y="680.95" width="31" height="13.35" fill="#58b0a4"/><rect x="481.7" y="665.35" width="31" height="28.95" fill="#4a8f9c"/><rect x="533.45" y="643.65" width="31" height="50.65" fill="#3f6e93"/><rect x="585.2" y="581.71" width="31" height="112.59" fill="#3f4a88"/><line x1="393.7" x2="393.7" y1="684.03" y2="679.24" stroke="#111" stroke-width="1.1"/><line x1="387.8" x2="399.6" y1="684.03" y2="684.03" stroke="#111" stroke-width="1.4"/><line x1="387.8" x2="399.6" y1="679.24" y2="679.24" stroke="#111" stroke-width="1.4"/><line x1="445.45" x2="445.45" y1="685.06" y2="676.85" stroke="#111" stroke-width="1.1"/><line x1="439.55" x2="451.35" y1="685.06" y2="685.06" stroke="#111" stroke-width="1.4"/><line x1="439.55" x2="451.35" y1="676.85" y2="676.85" stroke="#111" stroke-width="1.4"/><line x1="497.2" x2="497.2" y1="675.14" y2="655.63" stroke="#111" stroke-width="1.1"/><line x1="491.3" x2="503.1" y1="675.14" y2="675.14" stroke="#111" stroke-width="1.4"/><line x1="491.3" x2="503.1" y1="655.63" y2="655.63" stroke="#111" stroke-width="1.4"/><line x1="548.95" x2="548.95" y1="661.79" y2="624.83" stroke="#111" stroke-width="1.1"/><line x1="543.05" x2="554.85" y1="661.79" y2="661.79" stroke="#111" stroke-width="1.4"/><line x1="543.05" x2="554.85" y1="624.83" y2="624.83" stroke="#111" stroke-width="1.4"/><line x1="600.7" x2="600.7" y1="610.46" y2="552.62" stroke="#111" stroke-width="1.1"/><line x1="594.8" x2="606.6" y1="610.46" y2="610.46" stroke="#111" stroke-width="1.4"/><line x1="594.8" x2="606.6" y1="552.62" y2="552.62" stroke="#111" stroke-width="1.4"/><rect x="366.5" y="540.3" width="261.8" height="154" fill="none" stroke="#262626" stroke-width="1.25"/><line x1="362.7" x2="366.5" y1="694.3" y2="694.3" stroke="#262626" stroke-width="1"/><text x="358.9" y="698.8" font-size="12.3" text-anchor="end" fill="#1a1a1a" stroke="#1a1a1a">0</text><line x1="362.7" x2="366.5" y1="660.08" y2="660.08" stroke="#262626" stroke-width="1"/><text x="358.9" y="664.58" font-size="12.3" text-anchor="end" fill="#1a1a1a" stroke="#1a1a1a">1</text><line x1="362.7" x2="366.5" y1="625.86" y2="625.86" stroke="#262626" stroke-width="1"/><text x="358.9" y="630.36" font-size="12.3" text-anchor="end" fill="#1a1a1a" stroke="#1a1a1a">2</text><line x1="362.7" x2="366.5" y1="591.63" y2="591.63" stroke="#262626" stroke-width="1"/><text x="358.9" y="596.13" font-size="12.3" text-anchor="end" fill="#1a1a1a" stroke="#1a1a1a">3</text><line x1="362.7" x2="366.5" y1="557.41" y2="557.41" stroke="#262626" stroke-width="1"/><text x="358.9" y="561.91" font-size="12.3" text-anchor="end" fill="#1a1a1a" stroke="#1a1a1a">4</text><line x1="393.7" x2="393.7" y1="694.3" y2="698.7" stroke="#111" stroke-width="1"/><text transform="translate(400.9,707.7) rotate(-45)" font-size="12.9" text-anchor="end" fill="#1a1a1a" stroke="#1a1a1a">0.1-0.2</text><line x1="445.45" x2="445.45" y1="694.3" y2="698.7" stroke="#111" stroke-width="1"/><text transform="translate(452.65,707.7) rotate(-45)" font-size="12.9" text-anchor="end" fill="#1a1a1a" stroke="#1a1a1a">0.2-0.3</text><line x1="497.2" x2="497.2" y1="694.3" y2="698.7" stroke="#111" stroke-width="1"/><text transform="translate(504.4,707.7) rotate(-45)" font-size="12.9" text-anchor="end" fill="#1a1a1a" stroke="#1a1a1a">0.3-0.5</text><line x1="548.95" x2="548.95" y1="694.3" y2="698.7" stroke="#111" stroke-width="1"/><text transform="translate(556.15,707.7) rotate(-45)" font-size="12.9" text-anchor="end" fill="#1a1a1a" stroke="#1a1a1a">0.5-0.8</text><line x1="600.7" x2="600.7" y1="694.3" y2="698.7" stroke="#111" stroke-width="1"/><text transform="translate(607.9,707.7) rotate(-45)" font-size="12.9" text-anchor="end" fill="#1a1a1a" stroke="#1a1a1a">0.8-1.0</text><text x="497.4" y="752.6" font-size="12.5" text-anchor="middle" fill="#1a1a1a" stroke="#1a1a1a">Beta diversity</text><text transform="translate(341.1,613.8) rotate(-90)" font-size="12.5" text-anchor="middle" fill="#1a1a1a" stroke="#1a1a1a"><tspan>ΔS</tspan><tspan font-size="8.7">T</tspan><tspan> (d °C</tspan><tspan font-size="6.8" dy="-4.2">-1</tspan><tspan dy="4.2">)</tspan></text></svg></body></html>
